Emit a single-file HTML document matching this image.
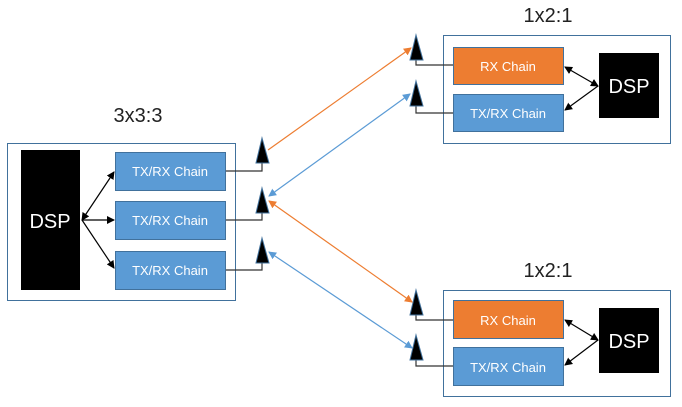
<!DOCTYPE html>
<html><head><meta charset="utf-8"><style>html,body{margin:0;padding:0;background:#fff}svg{display:block}</style></head>
<body>
<svg width="682" height="407" xmlns="http://www.w3.org/2000/svg" font-family="'Liberation Sans', sans-serif">
<defs>
<marker id="ak" markerWidth="8" markerHeight="8" refX="7" refY="4" orient="auto-start-reverse" markerUnits="userSpaceOnUse"><path d="M0,0 L8,4 L0,8 z" fill="#000"/></marker>
<marker id="ao" markerWidth="8" markerHeight="8" refX="7" refY="4" orient="auto-start-reverse" markerUnits="userSpaceOnUse"><path d="M0,0 L8,4 L0,8 z" fill="#ED7D31"/></marker>
<marker id="ab" markerWidth="8" markerHeight="8" refX="7" refY="4" orient="auto-start-reverse" markerUnits="userSpaceOnUse"><path d="M0,0 L8,4 L0,8 z" fill="#5B9BD5"/></marker>
<g id="ant"><path d="M0,25 L6,0 L13,25 z" fill="#000" stroke="#41719C" stroke-width="1"/></g>
</defs>
<!-- Left -->
<text x="138" y="122" font-size="20" text-anchor="middle" fill="#222">3x3:3</text>
<rect x="7.5" y="143.5" width="228" height="157" fill="#fff" stroke="#41719C"/>
<rect x="21" y="150" width="59" height="140" fill="#000"/>
<text x="50" y="228" font-size="20" fill="#fff" text-anchor="middle">DSP</text>
<g font-size="13" fill="#fff" text-anchor="middle">
<rect x="115.5" y="152.5" width="110" height="38" fill="#5B9BD5" stroke="#41719C"/><text x="170" y="176">TX/RX Chain</text>
<rect x="115.5" y="201.5" width="110" height="38" fill="#5B9BD5" stroke="#41719C"/><text x="170" y="225">TX/RX Chain</text>
<rect x="115.5" y="251.5" width="110" height="38" fill="#5B9BD5" stroke="#41719C"/><text x="170" y="275">TX/RX Chain</text>
</g>
<g stroke="#000" stroke-width="1.2" fill="none">
<line x1="82" y1="220" x2="114" y2="172" marker-start="url(#ak)" marker-end="url(#ak)"/>
<line x1="82" y1="220" x2="114" y2="220" marker-end="url(#ak)"/>
<line x1="82" y1="220" x2="114" y2="268" marker-end="url(#ak)"/>
<polyline points="226,171 262,171 262,160" stroke="#333"/>
<polyline points="226,220 262,220 262,210" stroke="#333"/>
<polyline points="226,270 262,270 262,260" stroke="#333"/>
</g>
<use href="#ant" x="256" y="138"/>
<use href="#ant" x="256" y="188"/>
<use href="#ant" x="256" y="238"/>
<!-- Top right -->
<text x="548" y="22" font-size="20" text-anchor="middle" fill="#222">1x2:1</text>
<rect x="443.5" y="35.5" width="227" height="108" fill="#fff" stroke="#41719C"/>
<rect x="599" y="53" width="60" height="65" fill="#000"/>
<text x="629" y="93" font-size="20" fill="#fff" text-anchor="middle">DSP</text>
<rect x="453.5" y="47.5" width="110" height="37" fill="#ED7D31" stroke="#41719C"/><text x="508" y="71" font-size="13" fill="#fff" text-anchor="middle">RX Chain</text>
<rect x="453.5" y="94.5" width="110" height="37" fill="#5B9BD5" stroke="#41719C"/><text x="508" y="118" font-size="13" fill="#fff" text-anchor="middle">TX/RX Chain</text>
<g stroke="#000" stroke-width="1.2" fill="none">
<line x1="565" y1="67" x2="598" y2="86" marker-start="url(#ak)" marker-end="url(#ak)"/>
<line x1="565" y1="110" x2="598" y2="86" marker-start="url(#ak)"/>
<polyline points="453,65 416,65 416,58" stroke="#333"/>
<polyline points="453,113 416,113 416,105" stroke="#333"/>
</g>
<use href="#ant" x="410" y="35"/>
<use href="#ant" x="410" y="81"/>
<!-- Bottom right -->
<text x="548" y="277" font-size="20" text-anchor="middle" fill="#222">1x2:1</text>
<rect x="443.5" y="290.5" width="227" height="106" fill="#fff" stroke="#41719C"/>
<rect x="599" y="308" width="60" height="65" fill="#000"/>
<text x="629" y="348" font-size="20" fill="#fff" text-anchor="middle">DSP</text>
<rect x="453.5" y="300.5" width="110" height="38" fill="#ED7D31" stroke="#41719C"/><text x="508" y="325" font-size="13" fill="#fff" text-anchor="middle">RX Chain</text>
<rect x="453.5" y="347.5" width="110" height="38" fill="#5B9BD5" stroke="#41719C"/><text x="508" y="372" font-size="13" fill="#fff" text-anchor="middle">TX/RX Chain</text>
<g stroke="#000" stroke-width="1.2" fill="none">
<line x1="565" y1="320" x2="598" y2="340" marker-start="url(#ak)" marker-end="url(#ak)"/>
<line x1="565" y1="365" x2="598" y2="340" marker-start="url(#ak)"/>
<polyline points="453,320 416,320 416,314" stroke="#333"/>
<polyline points="453,366 416,366 416,359" stroke="#333"/>
</g>
<use href="#ant" x="410" y="290"/>
<use href="#ant" x="410" y="335"/>
<!-- links -->
<line x1="268" y1="150" x2="411" y2="48" stroke="#ED7D31" stroke-width="1.2" marker-end="url(#ao)"/>
<line x1="410" y1="94" x2="269" y2="196" stroke="#5B9BD5" stroke-width="1.2" marker-start="url(#ab)" marker-end="url(#ab)"/>
<line x1="269" y1="201" x2="412" y2="302" stroke="#ED7D31" stroke-width="1.2" marker-start="url(#ao)" marker-end="url(#ao)"/>
<line x1="269" y1="252" x2="412" y2="348" stroke="#5B9BD5" stroke-width="1.2" marker-start="url(#ab)" marker-end="url(#ab)"/>
</svg>
</body></html>
